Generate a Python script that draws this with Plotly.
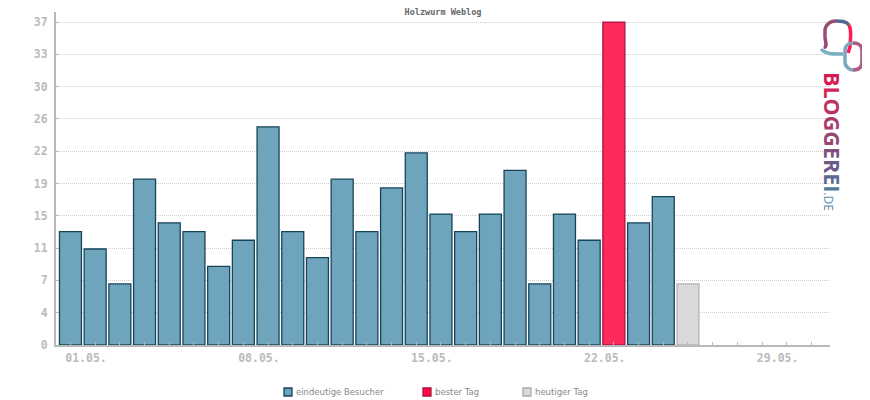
# plot.py

import pandas as pd
import plotly.express as px

DAYS = list(range(1, 27))
VISITORS = [13, 11, 7, 19, 14, 13, 9, 12, 25, 13, 10, 19, 13, 18, 22, 15, 13, 15, 20, 7, 15, 12, 37, 14, 17, 7]
KINDS = ["eindeutige Besucher"] * 22 + ["bester Tag"] + ["eindeutige Besucher"] * 2 + ["heutiger Tag"]

Y_TICKS = [0, 3.7, 7.4, 11.1, 14.8, 18.5, 22.2, 25.9, 29.6, 33.3, 37]
Y_LABELS = ["0", "4", "7", "11", "15", "19", "22", "26", "30", "33", "37"]
X_TICK_DAYS = list(range(1, 32))
X_LABEL_POS = [1.63, 8.63, 15.63, 22.63, 29.63]
X_LABELS = ["01.05.", "08.05.", "15.05.", "22.05.", "29.05."]

LEGEND_NAMES = ["eindeutige Besucher", "bester Tag", "heutiger Tag"]
LEGEND_FILLS = ["#6ea4bc", "#ff0a45", "#d9d9d9"]
LEGEND_LINES = ["#16455a", "#b0103f", "#aaaaaa"]
LEGEND_LEFT = [284, 423, 523]  # window pixels

LOGO_LETTERS = ["B", "L", "O", "G", "G", "E", "R", "E", "I"]
LOGO_COLORS = ["#d81b50", "#d0255a", "#bd3062", "#a83c6c", "#964570", "#7f5080", "#6d5a8a", "#5f6a92", "#4f7a9c"]

# logo strokes in window pixels
LOGO_STROKES = [
    ("M 824 48 C 828 46 825 42 825 36 L 825 31 C 825 25 830 21 836 21", "#9a4a72"),
    ("M 836 21 C 841 21 846 21 849 25", "#55688f"),
    ("M 849 25 C 851 29 851 33 850 47 L 848 53", "#ff1a50"),
    ("M 821 49 C 826 55 834 54 843 54", "#7ab0c4"),
    ("M 853 43 C 848 43 845 46 845 50 L 845 62 C 845 67 850 70 853 70", "#7aa8c0"),
    ("M 853 43 C 859 43 862 46 862 50 L 862 62 C 862 67 859 70 853 70", "#b05a80"),
]

# the page keeps 8 px of body margin around the plot
PAGE = 8
PLOT_LEFT, PLOT_RIGHT, PLOT_TOP, PLOT_BOTTOM = 56, 830, 12, 345


def paper_x(px_x):
    return (px_x - PLOT_LEFT) / (PLOT_RIGHT - PLOT_LEFT)


def paper_y(px_y):
    return (PLOT_BOTTOM - px_y) / (PLOT_BOTTOM - PLOT_TOP)


def to_paper(path):
    """Turn a window pixel path into paper coordinates."""
    parts = path.split()
    out = []
    is_x = True
    for part in parts:
        if part.isalpha():
            out.append(part)
            is_x = True
        elif is_x:
            out.append(f"{paper_x(float(part)):.4f},")
            is_x = False
        else:
            out.append(f"{paper_y(float(part)):.4f}")
            is_x = True
    return " ".join(out).replace(", ", ",")


def add_logo(fig):
    """Bloggerei logo at the right edge."""
    for path, color in LOGO_STROKES:
        fig.add_shape(
            type="path",
            path=to_paper(path),
            xref="paper",
            yref="paper",
            line=dict(color=color, width=3.5),
        )

    word = "".join(f'<span style="color:{c}">{l}</span>' for l, c in zip(LOGO_LETTERS, LOGO_COLORS))
    tail = '<span style="color:#5590b0;font-size:12px;font-weight:normal">.DE</span>'
    fig.add_annotation(
        text=f"<b>{word}</b>{tail}",
        textangle=90,
        xref="paper",
        yref="paper",
        x=paper_x(849),
        y=paper_y(141.5),
        showarrow=False,
        font=dict(family="Open Sans", size=21.5),
    )


def add_legend(fig):
    """Small legend row, the swatches sit closer to the text than a plotly legend allows."""
    for name, fill, line, left in zip(LEGEND_NAMES, LEGEND_FILLS, LEGEND_LINES, LEGEND_LEFT):
        fig.add_shape(
            type="rect",
            xref="paper",
            yref="paper",
            x0=paper_x(left),
            x1=paper_x(left + 8),
            y0=paper_y(396),
            y1=paper_y(388),
            fillcolor=fill,
            line=dict(color=line, width=1.3),
        )
        fig.add_annotation(
            text=name,
            xref="paper",
            yref="paper",
            x=paper_x(left + 11),
            xanchor="left",
            y=paper_y(392),
            yanchor="middle",
            showarrow=False,
            borderpad=0,
            font=dict(family="DejaVu Sans", size=8.5, color="#888888"),
        )


def chart_visitors(df):
    """Bar chart of visitors per day."""
    fig = px.bar(
        df,
        x="day",
        y="visitors",
        color="kind",
        color_discrete_map={
            "eindeutige Besucher": "#6ea4bc",
            "bester Tag": "#ff2a5c",
            "heutiger Tag": "#d9d9d9",
        },
        title="Holzwurm Weblog",
    )

    fig.update_traces(width=0.89, marker_line_width=1.3)
    fig.update_traces(marker_line_color="#16455a", selector=dict(name="eindeutige Besucher"))
    fig.update_traces(marker_line_color="#b0103f", selector=dict(name="bester Tag"))
    fig.update_traces(marker_line_color="#b5b5b5", selector=dict(name="heutiger Tag"))

    fig.update_layout(
        width=870 - PAGE,
        height=400 - PAGE,
        margin=dict(l=PLOT_LEFT - PAGE, r=870 - PLOT_RIGHT, t=PLOT_TOP - PAGE, b=400 - PLOT_BOTTOM, autoexpand=False),
        plot_bgcolor="white",
        paper_bgcolor="white",
        showlegend=False,
        title=dict(
            x=(443 - PAGE) / (870 - PAGE),
            xanchor="center",
            y=1 - (12 - PAGE) / (400 - PAGE),
            yanchor="middle",
            font=dict(family="DejaVu Sans Mono", size=8.5, color="#666666", weight="bold"),
        ),
    )
    fig.update_xaxes(
        title_text="",
        range=[0.415, 31.75],
        tickmode="array",
        tickvals=X_LABEL_POS,
        ticktext=X_LABELS,
        ticks="",
        ticklabelstandoff=1,
        showgrid=False,
        zeroline=False,
        showline=True,
        linecolor="#b8b8b8",
        linewidth=2,
        tickfont=dict(family="DejaVu Sans Mono", size=11.5, color="#bbbbbb", weight="bold"),
        minor=dict(tickmode="array", tickvals=X_TICK_DAYS, ticks="inside", ticklen=3, tickcolor="#b8b8b8", showgrid=False),
    )
    fig.update_yaxes(
        title_text="",
        range=[0, 38.15],
        tickmode="array",
        tickvals=Y_TICKS,
        ticktext=Y_LABELS,
        ticks="inside",
        ticklen=3,
        tickcolor="#b8b8b8",
        ticklabelstandoff=4,
        showgrid=True,
        gridcolor="#cccccc",
        griddash="1px,1px",
        zeroline=False,
        showline=True,
        linecolor="#b8b8b8",
        linewidth=2,
        tickfont=dict(family="DejaVu Sans Mono", size=11.5, color="#bbbbbb", weight="bold"),
    )

    add_legend(fig)
    add_logo(fig)
    return fig


def main():
    """Generate the weblog chart."""
    df = pd.DataFrame({"day": DAYS, "visitors": VISITORS, "kind": KINDS})

    fig = chart_visitors(df)
    fig.write_html("out.html")


if __name__ == "__main__":
    main()
